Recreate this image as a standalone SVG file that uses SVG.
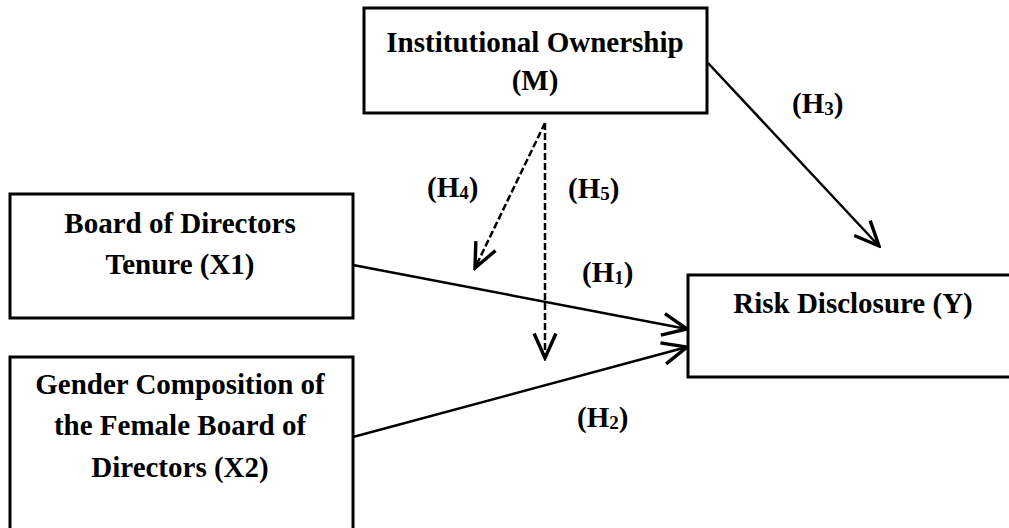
<svg xmlns="http://www.w3.org/2000/svg" width="1009" height="528" viewBox="0 0 1009 528">
<style>
.box{fill:#fff;stroke:#000;stroke-width:3}
.t{font-family:"Liberation Serif","Times New Roman",serif;font-weight:bold;font-size:29px;fill:#000;text-anchor:middle}
.lbl{font-family:"Liberation Serif","Times New Roman",serif;font-weight:bold;font-size:29px;fill:#000}
.sub{font-size:19px}
.ln{fill:none;stroke:#000;stroke-width:2.5}
.dash{stroke-dasharray:7 3}
</style>
<defs>
<marker id="ah" markerUnits="userSpaceOnUse" markerWidth="30" markerHeight="30" viewBox="-20 -10 22 20" refX="0" refY="0" orient="auto">
<path d="M-18,-8 L0,0 L-18,8" fill="none" stroke="#000" stroke-width="2.5" stroke-dasharray="none"/>
</marker>
</defs>
<g id="connectors">
<line class="ln" x1="708" y1="63" x2="879" y2="246" marker-end="url(#ah)"/>
<line class="ln" x1="353" y1="265" x2="687" y2="329" marker-end="url(#ah)"/>
<line class="ln" x1="353" y1="437" x2="687" y2="347" marker-end="url(#ah)"/>
<line class="ln dash" x1="545" y1="123" x2="475" y2="268" marker-end="url(#ah)"/>
<line class="ln dash" x1="545" y1="123" x2="545" y2="358" marker-end="url(#ah)"/>
</g>
<g id="node-M">
<rect class="box" x="364" y="8" width="343" height="105"/>
<text class="t" x="535" y="52">Institutional Ownership</text>
<text class="t" x="535" y="90">(M)</text>
</g>
<g id="node-X1">
<rect class="box" x="10" y="194" width="343" height="124"/>
<text class="t" x="180" y="233">Board of Directors</text>
<text class="t" x="180" y="274">Tenure (X1)</text>
</g>
<g id="node-X2">
<rect class="box" x="10" y="357" width="343" height="180"/>
<text class="t" x="180" y="394">Gender Composition of</text>
<text class="t" x="180" y="435">the Female Board of</text>
<text class="t" x="180" y="477">Directors (X2)</text>
</g>
<g id="node-Y">
<rect class="box" x="688" y="275" width="340" height="102"/>
<text class="t" x="853" y="313">Risk Disclosure (Y)</text>
</g>
<g id="labels">
<text class="lbl" x="792" y="113">(H<tspan class="sub" dy="2">3</tspan><tspan dy="-2">)</tspan></text>
<text class="lbl" x="427" y="197">(H<tspan class="sub" dy="2">4</tspan><tspan dy="-2">)</tspan></text>
<text class="lbl" x="568" y="198">(H<tspan class="sub" dy="2">5</tspan><tspan dy="-2">)</tspan></text>
<text class="lbl" x="582" y="282">(H<tspan class="sub" dy="2">1</tspan><tspan dy="-2">)</tspan></text>
<text class="lbl" x="577" y="427">(H<tspan class="sub" dy="2">2</tspan><tspan dy="-2">)</tspan></text>
</g>
</svg>
